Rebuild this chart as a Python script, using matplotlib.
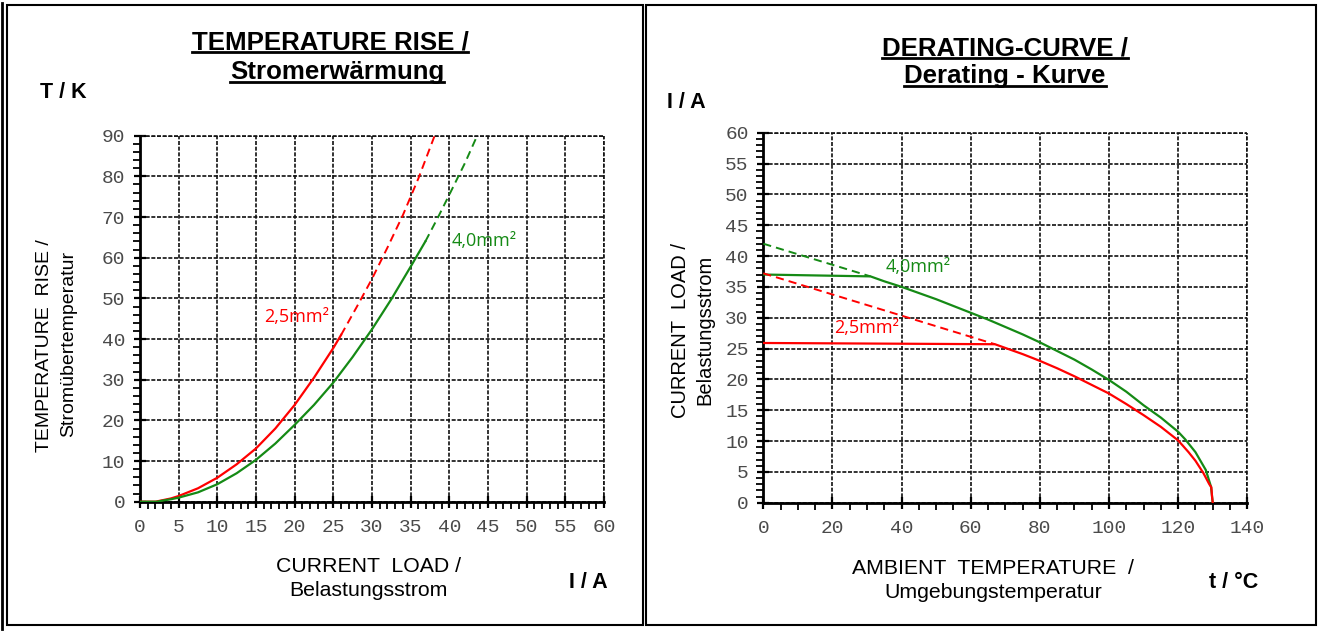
import matplotlib
matplotlib.use("Agg")
import matplotlib.pyplot as plt
from matplotlib.ticker import MultipleLocator
from matplotlib.patches import Rectangle
from matplotlib.lines import Line2D

# ---------------- data ----------------
# Left chart: temperature rise (K) vs current load (A)
rise_I_25_solid = [0, 2, 3, 4, 5, 7.5, 10, 12.5, 15, 17.5, 20, 22.5, 25, 26]
rise_T_25_solid = [0, 0, 0.4, 0.8, 1.4, 3.3, 5.9, 9.2, 13.1, 18.0, 23.8, 30.5, 37.8, 41.0]
rise_I_25_dash = [26, 28, 30, 32, 34, 36, 38.1]
rise_T_25_dash = [41.0, 47.8, 54.8, 62.5, 70.5, 79.5, 90.0]

rise_I_40_solid = [0, 2.2, 3, 4, 5, 7.5, 10, 12.5, 15, 17.5, 20, 22.5, 25, 27.5,
                   30, 32.5, 35, 36.9]
rise_T_40_solid = [0, 0, 0.3, 0.6, 1.0, 2.3, 4.3, 7.0, 10.3, 14.3, 18.9, 23.8, 29.3,
                   35.6, 42.4, 49.8, 57.8, 64.0]
rise_I_40_dash = [36.9, 38.5, 40, 42, 43.6]
rise_T_40_dash = [64.0, 69.8, 75.5, 83.2, 90.0]

# Right chart: derating, current load (A) vs ambient temperature (°C)
der_t_40_solid = [0, 31, 35, 40, 45, 50, 55, 60, 65, 70, 75, 80, 85, 90, 95, 100,
                  105, 110, 115, 120, 122, 125, 128, 129.5, 130]
der_I_40_solid = [37.0, 36.7, 35.9, 35.0, 34.0, 33.0, 31.9, 30.8, 29.7, 28.5, 27.3,
                  26.0, 24.6, 23.2, 21.6, 19.9, 18.0, 15.8, 13.8, 11.5, 10.3, 8.2,
                  5.3, 2.6, 0]
der_t_40_dash = [0, 31]
der_I_40_dash = [42.0, 36.7]

der_t_25_solid = [0, 67, 70, 75, 80, 85, 90, 95, 100, 105, 110, 115, 120, 123, 125,
                  127.3, 129, 129.6, 129.8, 130]
der_I_25_solid = [25.9, 25.7, 25.1, 24.1, 23.0, 21.8, 20.5, 19.1, 17.7, 16.0, 14.2,
                  12.3, 10.1, 8.2, 6.8, 4.8, 3.0, 2.5, 1.0, 0]
der_t_25_dash = [0, 67]
der_I_25_dash = [37.2, 25.7]

label_25 = "2,5mm²"
label_40 = "4,0mm²"

RED = "#ff0000"
GREEN = "#158a15"

W, H = 1319, 632
fig = plt.figure(figsize=(W / 100, H / 100), dpi=100)
fig.patch.set_facecolor("white")


def fx(x):
    return x / W


def fy(y):
    return 1 - y / H


def axes_px(x0, y0, x1, y1):
    return fig.add_axes([fx(x0), fy(y1), fx(x1) - fx(x0), fy(y0) - fy(y1)])


GRID_LS = (0, (2.4, 1.0))


def style_axes(ax, xmax, ymax, xmaj, xmin, ymaj, ymin):
    ax.set_xlim(0, xmax)
    ax.set_ylim(0, ymax)
    ax.xaxis.set_major_locator(MultipleLocator(xmaj))
    ax.xaxis.set_minor_locator(MultipleLocator(xmin))
    ax.yaxis.set_major_locator(MultipleLocator(ymaj))
    ax.yaxis.set_minor_locator(MultipleLocator(ymin))
    for s in ("top", "right"):
        ax.spines[s].set_visible(False)
    for s in ("left", "bottom"):
        ax.spines[s].set_linewidth(2.0)
        ax.spines[s].set_color("black")
    ax.tick_params(which="major", direction="inout", length=9, width=1.6,
                   color="black")
    ax.tick_params(which="minor", direction="out", length=5, width=1.3,
                   color="black")
    ax.tick_params(axis="x", which="major", pad=8)
    ax.tick_params(axis="y", which="major", pad=6)
    for lab in ax.get_xticklabels() + ax.get_yticklabels():
        lab.set_fontfamily("Liberation Mono")
        lab.set_fontsize(14)
        lab.set_color("#4a4a4a")
    ax.grid(True, which="major", color="#111111", linestyle=GRID_LS, linewidth=1.2)
    ax.axhline(ymax, color="#111111", linestyle=GRID_LS, linewidth=1.2,
               clip_on=False, zorder=1)
    ax.axvline(xmax, color="#111111", linestyle=GRID_LS, linewidth=1.2,
               clip_on=False, zorder=1)
    ax.set_axisbelow(True)


DASH = (0, (4.2, 2.6))
LBL = dict(fontsize=13, family="Open Sans", va="center", ha="left")

# ---------------- left chart ----------------
ax1 = axes_px(140, 135.7, 604, 501.7)
style_axes(ax1, 60, 90, 5, 1, 10, 2)
ax1.plot(rise_I_25_solid, rise_T_25_solid, color=RED, lw=1.6, zorder=3)
ax1.plot(rise_I_25_dash, rise_T_25_dash, color=RED, lw=1.4, ls=DASH, zorder=3)
ax1.plot(rise_I_40_solid, rise_T_40_solid, color=GREEN, lw=1.6, zorder=3)
ax1.plot(rise_I_40_dash, rise_T_40_dash, color=GREEN, lw=1.4, ls=DASH, zorder=3)
ax1.text(16.0, 45.3, label_25, color=RED, **LBL)
ax1.text(40.3, 64.2, label_40, color=GREEN, **LBL)

# ---------------- right chart ----------------
ax2 = axes_px(763.3, 132.7, 1247.3, 502.7)
style_axes(ax2, 140, 60, 20, 5, 5, 1)
ax2.plot(der_t_40_solid, der_I_40_solid, color=GREEN, lw=1.6, zorder=3)
ax2.plot(der_t_40_dash, der_I_40_dash, color=GREEN, lw=1.4, ls=DASH, zorder=3)
ax2.plot(der_t_25_solid, der_I_25_solid, color=RED, lw=1.6, zorder=3)
ax2.plot(der_t_25_dash, der_I_25_dash, color=RED, lw=1.4, ls=DASH, zorder=3)
ax2.text(35.4, 38.2, label_40, color=GREEN, **LBL)
ax2.text(20.5, 28.3, label_25, color=RED, **LBL)

# ---------------- frames ----------------
for (x0, y0, x1, y1) in [(7, 5, 643, 625), (646, 5, 1316, 625)]:
    fig.add_artist(Rectangle((fx(x0), fy(y1)), fx(x1) - fx(x0), fy(y0) - fy(y1),
                             transform=fig.transFigure, fill=False,
                             edgecolor="black", linewidth=1.5))
fig.add_artist(Line2D([fx(2), fx(2)], [fy(3), fy(629)], transform=fig.transFigure,
                      color="black", linewidth=2.0))

# ---------------- texts ----------------
SANS = "Liberation Sans"
fig.canvas.draw()
renderer = fig.canvas.get_renderer()


def title(x, y_base, s, size=18.6):
    t = fig.text(fx(x), fy(y_base), s, ha="center", va="baseline", family=SANS,
                 weight="bold", fontsize=size)
    bb = t.get_window_extent(renderer=renderer)
    uy = y_base + 3
    fig.add_artist(Line2D([bb.x0 / W, bb.x1 / W], [fy(uy), fy(uy)],
                          transform=fig.transFigure, color="black", linewidth=2.0))


title(330, 49, "TEMPERATURE RISE /")
title(337, 79, "Stromerwärmung")
title(1005, 55, "DERATING-CURVE /")
title(1005, 83, "Derating - Kurve")

BOLD = dict(family=SANS, weight="bold", fontsize=15.5, va="center")
fig.text(fx(40), fy(92), "T / K", ha="left", **BOLD)
fig.text(fx(667), fy(103), "I / A", ha="left", **BOLD)
fig.text(fx(588), fy(583), "I / A", ha="center", **BOLD)
fig.text(fx(1234), fy(583), "t / °C", ha="center", **BOLD)

REG = dict(family=SANS, ha="center", va="center")
fig.text(fx(45), fy(346), "TEMPERATURE  RISE /", rotation=90, fontsize=14, **REG)
fig.text(fx(69), fy(344), "Stromübertemperatur", rotation=90, fontsize=14, **REG)
fig.text(fx(680), fy(330), "CURRENT  LOAD /", rotation=90, fontsize=14.5, **REG)
fig.text(fx(705), fy(330), "Belastungsstrom", rotation=90, fontsize=14.5, **REG)

fig.text(fx(369), fy(566), "CURRENT  LOAD /", fontsize=15.3, **REG)
fig.text(fx(368), fy(591), "Belastungsstrom", fontsize=15.3, **REG)
fig.text(fx(993), fy(568), "AMBIENT  TEMPERATURE  /", fontsize=15.3, **REG)
fig.text(fx(993), fy(592), "Umgebungstemperatur", fontsize=15.3, **REG)

fig.savefig("out.png", dpi=100, facecolor="white")
